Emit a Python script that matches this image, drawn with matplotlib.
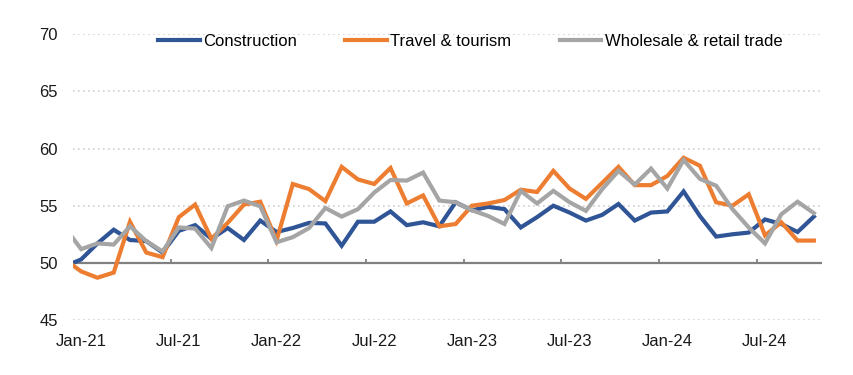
import numpy as np
import pandas as pd
import matplotlib
matplotlib.use("Agg")
import matplotlib.pyplot as plt

plt.rcParams["font.family"] = ["Liberation Sans", "DejaVu Sans"]

# monthly index, Dec-20 .. Oct-24 (Dec-20 only shows as the clipped first segment)
months = pd.date_range("2020-12-01", periods=47, freq="MS")

construction = [49.7, 50.3, 51.7, 52.9, 52.0, 51.9, 50.9, 52.8, 53.3, 52.1, 53.05, 52.0, 53.7,
                52.7, 53.05, 53.5, 53.45, 51.5, 53.6, 53.6, 54.5, 53.3, 53.55, 53.2, 55.3,
                54.6, 54.9, 54.7, 53.1, 54.0, 55.0, 54.4, 53.7, 54.2, 55.15, 53.7, 54.4,
                54.5, 56.25, 54.1, 52.3, 52.5, 52.65, 53.8, 53.4, 52.7, 54.05]
travel = [50.3, 49.25, 48.7, 49.15, 53.6, 50.9, 50.5, 54.0, 55.1, 52.1, 53.5, 55.1, 55.35,
          51.95, 56.9, 56.45, 55.4, 58.4, 57.3, 56.9, 58.3, 55.2, 55.9, 53.2, 53.4,
          55.0, 55.2, 55.5, 56.4, 56.2, 58.05, 56.5, 55.6, 57.0, 58.4, 56.8, 56.8,
          57.6, 59.2, 58.5, 55.3, 55.0, 56.0, 52.4, 53.55, 51.95, 51.95]
wholesale = [53.1, 51.2, 51.7, 51.6, 53.2, 51.9, 51.0, 53.1, 53.0, 51.3, 54.95, 55.45, 54.95,
             51.8, 52.25, 53.05, 54.8, 54.05, 54.7, 56.15, 57.25, 57.2, 57.9, 55.45, 55.3,
             54.6, 54.1, 53.4, 56.3, 55.2, 56.3, 55.3, 54.55, 56.45, 58.05, 56.85, 58.25,
             56.5, 59.0, 57.35, 56.75, 54.7, 53.1, 51.7, 54.25, 55.35, 54.35]

series = [("Construction", construction, "#2F5597"),
          ("Travel & tourism", travel, "#ED7D31"),
          ("Wholesale & retail trade", wholesale, "#A5A5A5")]

tick_labels = ["Jan-21", "Jul-21", "Jan-22", "Jul-22", "Jan-23", "Jul-23", "Jan-24", "Jul-24"]
y_ticks = [45, 50, 55, 60, 65, 70]

x = np.arange(len(months)) - 1          # Jan-21 -> 0
lab_pos = [i for i, m in zip(x, months) if m.strftime("%b-%y") in tick_labels]

fig = plt.figure(figsize=(8.54, 3.75), dpi=100)
ax = fig.add_axes([73/854, 1-320/375, 749/854, (320-34.3)/375])

for y in y_ticks:
    if y != 50:
        ax.axhline(y, color="#D0D0D0", lw=1.2, ls=(0, (1, 2)), zorder=0)

for name, vals, col in series:
    ax.plot(x, vals, color=col, lw=3.0, label=name, solid_joinstyle="miter", zorder=3)

# category axis drawn at 50, tick marks between categories
ax.axhline(50, color="#808080", lw=1.6, zorder=2)
ax.vlines([p - 0.5 for p in lab_pos[1:]], 50, 50.35, color="#808080", lw=1.3, zorder=2)

ax.set_xlim(-0.5, 45.5)
ax.set_ylim(45, 70)
ax.set_xticks(lab_pos)
ax.set_xticklabels(tick_labels)
ax.set_yticks(y_ticks)
ax.tick_params(axis="both", length=0, labelsize=12, colors="#1a1a1a")
ax.tick_params(axis="x", pad=10)
ax.tick_params(axis="y", pad=11)
for s in ax.spines.values():
    s.set_visible(False)

fig.legend(loc="center", bbox_to_anchor=(470/854, 1-41.7/375), ncol=3, frameon=False,
           fontsize=12, handlelength=2.5, handletextpad=0.2, columnspacing=2.9)

fig.savefig("out.png", dpi=100)
